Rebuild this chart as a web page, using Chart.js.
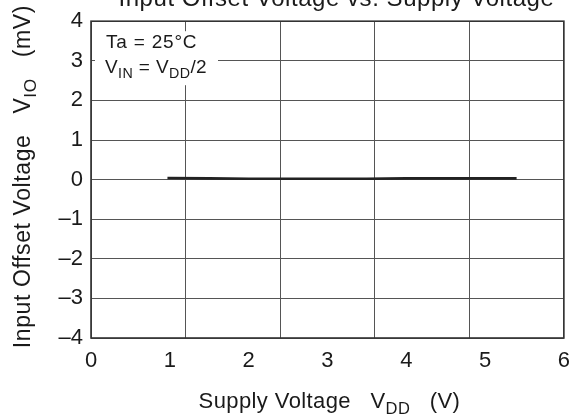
<!DOCTYPE html>
<html><head><meta charset="utf-8">
<script src="https://cdn.jsdelivr.net/npm/chart.js@4.4.1/dist/chart.umd.min.js"></script>
<style>html,body{margin:0;padding:0;background:#fff;overflow:hidden}#wrap{position:relative;width:580px;height:419px}</style>
</head><body><div id="wrap"><canvas id="c" width="580" height="419"></canvas></div>
<script>
// ---- data ----
const supplyVoltage = [0.97, 1.5, 2.0, 2.5, 3.0, 3.5, 4.0, 4.5, 5.0, 5.4];
const offsetVoltage = [0.04, 0.03, 0.02, 0.02, 0.02, 0.02, 0.03, 0.03, 0.03, 0.03];
const xTickValues = [0, 1, 2, 3, 4, 5, 6];
const yTickValues = [-4, -3, -2, -1, 0, 1, 2, 3, 4];
const xGridValues = [0, 1.2, 2.4, 3.6, 4.8, 6];
const chartTitle = 'Input Offset Voltage vs. Supply Voltage';
const xAxisTitle = [{t:'Supply Voltage   V'}, {t:'DD', sub:true}, {t:'   (V)'}];
const yAxisTitle = [{t:'Input Offset Voltage   V'}, {t:'IO', sub:true}, {t:'   (mV)'}];
const noteLine1 = [{t:'Ta = 25°C'}];
const noteLine2 = [{t:'V'}, {t:'IN', sub:true}, {t:' = V'}, {t:'DD', sub:true}, {t:'/2'}];

const FONT = '"Liberation Sans", Arial, sans-serif';
const INK = '#1a1a1a';

function richWidth(ctx, parts, size, ls) {
  let w = 0;
  for (const p of parts) {
    const s = p.sub ? size * 0.75 : size;
    ctx.font = s + 'px ' + FONT;
    ctx.letterSpacing = ls + 'px';
    w += ctx.measureText(p.t).width;
  }
  return w;
}
function drawRich(ctx, parts, x, y, size, ls, align) {
  const w = richWidth(ctx, parts, size, ls);
  let cx = align === 'center' ? x - w / 2 : x;
  ctx.textAlign = 'left';
  ctx.textBaseline = 'alphabetic';
  ctx.fillStyle = INK;
  for (const p of parts) {
    const s = p.sub ? size * 0.75 : size;
    ctx.font = s + 'px ' + FONT;
    ctx.letterSpacing = ls + 'px';
    ctx.fillText(p.t, cx, y + (p.sub ? size * 0.25 : 0));
    cx += ctx.measureText(p.t).width;
  }
  ctx.letterSpacing = '0px';
}

const textPlugin = {
  id: 'textPlugin',
  beforeDatasetsDraw(chart) {
    const ctx = chart.ctx, a = chart.chartArea;
    ctx.save();
    ctx.strokeStyle = '#333';
    ctx.lineWidth = 1.6;
    ctx.strokeRect(a.left, a.top, a.right - a.left, a.bottom - a.top);
    ctx.fillStyle = '#fff';
    ctx.fillRect(a.left + 4, a.top + 10, 123, 54);
    drawRich(ctx, noteLine1, a.left + 15, a.top + 27, 19, 0.8, 'left');
    drawRich(ctx, noteLine2, a.left + 14, a.top + 52, 19, 0.4, 'left');
    ctx.restore();
  },
  afterDraw(chart) {
    const ctx = chart.ctx, a = chart.chartArea;
    ctx.save();
    drawRich(ctx, [{t: chartTitle}], (a.left + a.right) / 2 + 9, 6, 24, 0.55, 'center');
    drawRich(ctx, xAxisTitle, (a.left + a.right) / 2 + 2, 408, 22, 0.4, 'center');
    ctx.translate(30, (a.top + a.bottom) / 2 - 3);
    ctx.rotate(-Math.PI / 2);
    drawRich(ctx, yAxisTitle, 0, 0, 23, 0.6, 'center');
    ctx.restore();
  }
};

new Chart(document.getElementById('c'), {
  type: 'line',
  data: {
    datasets: [{
      data: supplyVoltage.map((x, i) => ({x, y: offsetVoltage[i]})),
      borderColor: '#222',
      borderWidth: 2.6,
      pointRadius: 0,
      tension: 0,
      fill: false
    }]
  },
  options: {
    responsive: false,
    animation: false,
    events: [],
    layout: {padding: {top: 13, right: 6, left: 0, bottom: 0}},
    plugins: {legend: {display: false}, tooltip: {enabled: false}, title: {display: false}},
    scales: {
      x: {
        type: 'linear', position: 'bottom', min: 0, max: 6,
        afterBuildTicks(s) { s.ticks = xTickValues.map(v => ({value: v})); },
        afterFit(s) { s.height = 81; },
        grid: {display: false, drawTicks: false},
        border: {display: false},
        ticks: {padding: 10, color: INK, font: {family: FONT, size: 22}, callback: v => String(v)}
      },
      xg: {
        type: 'linear', position: 'bottom', min: 0, max: 6,
        afterBuildTicks(s) { s.ticks = xGridValues.map(v => ({value: v})); },
        afterFit(s) { s.height = 0; },
        grid: {display: true, drawTicks: false, color: '#555', lineWidth: 1},
        border: {display: false},
        ticks: {display: false}
      },
      y: {
        type: 'linear', min: -4, max: 4,
        afterBuildTicks(s) { s.ticks = yTickValues.map(v => ({value: v})); },
        afterFit(s) { s.width = 91; },
        grid: {display: true, drawTicks: false, color: '#555', lineWidth: 1},
        border: {display: false},
        ticks: {padding: 8, color: INK, font: {family: FONT, size: 22},
          callback: v => v < 0 ? '\u2013' + Math.abs(v) : String(v)}
      }
    }
  },
  plugins: [textPlugin]
});
</script></body></html>
